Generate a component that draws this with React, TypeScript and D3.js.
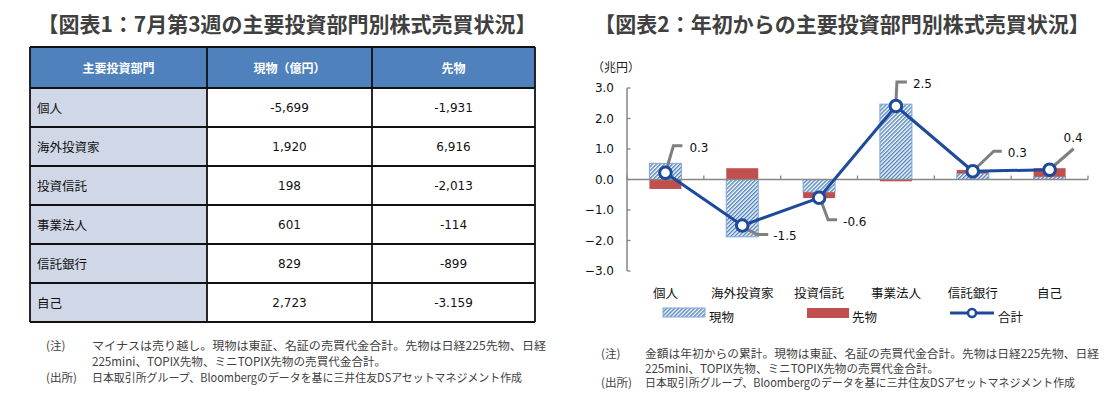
import React from "react";
import * as d3 from "d3";

// ---------- data ----------
const categories = ["個人", "海外投資家", "投資信託", "事業法人", "信託銀行", "自己"];
const tableHeaders = ["主要投資部門", "現物（億円）", "先物"];
const weeklySpot = ["-5,699", "1,920", "198", "601", "829", "2,723"];
const weeklyFutures = ["-1,931", "6,916", "-2,013", "-114", "-899", "-3.159"];

const ytdSpot = [0.53, -1.88, -0.42, 2.47, 0.2, 0.09];
const ytdFutures = [-0.31, 0.37, -0.19, -0.06, 0.11, 0.28];
const ytdTotal = [0.22, -1.51, -0.6, 2.41, 0.27, 0.32];
const ytdTotalLabels = ["0.3", "-1.5", "-0.6", "2.5", "0.3", "0.4"];
const yTicks = [3, 2, 1, 0, -1, -2, -3];
const legendLabels = ["現物", "先物", "合計"];

const title1 = "【図表1：7月第3週の主要投資部門別株式売買状況】";
const title2 = "【図表2：年初からの主要投資部門別株式売買状況】";
const note1 = [
  "マイナスは売り越し。現物は東証、名証の売買代金合計。先物は日経225先物、日経",
  "225mini、TOPIX先物、ミニTOPIX先物の売買代金合計。",
];
const note2 = [
  "金額は年初からの累計。現物は東証、名証の売買代金合計。先物は日経225先物、日経",
  "225mini、TOPIX先物、ミニTOPIX先物の売買代金合計。",
];
const sourceText = "日本取引所グループ、Bloombergのデータを基に三井住友DSアセットマネジメント作成";

// ---------- style ----------
const JP = "'Noto Sans CJK JP', 'Noto Sans', sans-serif";
const NUM = "'DejaVu Sans', 'Noto Sans CJK JP', sans-serif";
const TXT = "#404040";
const BLUE = "#4F81BD";
const RED = "#C0504D";
const LINE = "#1D4A9B";
const GREY = "#868686";
const LEADER = "#7F7F7F";

// leader-line shapes (offsets from marker) and label offsets
const leaders: [number, number][][] = [
  [[1, -3], [8, -27], [17, -27]],
  [[2, 2], [15, 9], [26, 9]],
  [[2, 3], [9, 22], [18, 22]],
  [[0, -3], [1, -24], [11, -24]],
  [[2, -2], [21, -20], [29, -20]],
  [[2, -2], [24, -21]],
];
const labelPos: [number, number][] = [
  [24, -25], [31, 10], [24, 24], [17, -22], [35, -18], [14, -32],
];

function Notes({ x0, x1, ys, lines }: { x0: number; x1: number; ys: number[]; lines: string[] }) {
  return (
    <g fontFamily={JP} fontSize={11.6} fill={TXT}>
      <text x={x0} y={ys[0]} dominantBaseline="central">(注)</text>
      <text x={x1} y={ys[0]} dominantBaseline="central" textLength={454} lengthAdjust="spacingAndGlyphs">{lines[0]}</text>
      <text x={x1} y={ys[1]} dominantBaseline="central">{lines[1]}</text>
      <text x={x0} y={ys[2]} dominantBaseline="central">(出所)</text>
      <text x={x1} y={ys[2]} dominantBaseline="central" textLength={430} lengthAdjust="spacingAndGlyphs">{sourceText}</text>
    </g>
  );
}

function Table() {
  const cols = [30, 207, 372, 535];
  const headTop = 47;
  const headBottom = 88;
  const rowH = 39;
  const rows = categories.map((c, i) => ({ c, s: weeklySpot[i], f: weeklyFutures[i], y: headBottom + i * rowH }));
  return (
    <g>
      <text x={287} y={23} textAnchor="middle" dominantBaseline="central" fontFamily={JP} fontWeight={700} fontSize={21} fill={TXT}>{title1}</text>
      <rect x={cols[0]} y={headTop} width={cols[3] - cols[0]} height={headBottom - headTop} fill={BLUE} />
      {rows.map((r) => (
        <rect key={r.c} x={cols[0]} y={r.y} width={cols[1] - cols[0]} height={rowH} fill="#D0D8E8" />
      ))}
      {tableHeaders.map((h, i) => (
        <text key={h} x={(cols[i] + cols[i + 1]) / 2} y={(headTop + headBottom) / 2} textAnchor="middle" dominantBaseline="central" fontFamily={JP} fontWeight={700} fontSize={12} fill="#fff">{h}</text>
      ))}
      {rows.map((r) => (
        <g key={r.c + "t"}>
          <text x={37} y={r.y + rowH / 2} dominantBaseline="central" fontFamily={JP} fontSize={12.5} fill="#111">{r.c}</text>
          <text x={(cols[1] + cols[2]) / 2} y={r.y + rowH / 2} textAnchor="middle" dominantBaseline="central" fontFamily={NUM} fontSize={12} fill="#111">{r.s}</text>
          <text x={(cols[2] + cols[3]) / 2} y={r.y + rowH / 2} textAnchor="middle" dominantBaseline="central" fontFamily={NUM} fontSize={12} fill="#111">{r.f}</text>
        </g>
      ))}
      {[headTop, headBottom, ...rows.map((r) => r.y + rowH)].map((y, i) => (
        <line key={"h" + i} x1={cols[0]} x2={cols[3]} y1={y} y2={y} stroke="#111" strokeWidth={1.8} />
      ))}
      {cols.map((x, i) => (
        <line key={"v" + i} x1={x} x2={x} y1={headTop} y2={headBottom + rowH * categories.length} stroke="#111" strokeWidth={1.8} />
      ))}
      <Notes x0={46} x1={92} ys={[345, 361, 377]} lines={note1} />
    </g>
  );
}

function Chart() {
  const x = d3.scaleBand<string>().domain(categories).range([627, 1088]).paddingInner(0).paddingOuter(0);
  const y = d3.scaleLinear().domain([-3, 3]).range([271, 88]);
  const barW = 32;
  const cx = (c: string) => (x(c) as number) + x.bandwidth() / 2;

  // diverging stack
  const bars: { c: string; y0: number; y1: number; kind: string }[] = [];
  categories.forEach((c, i) => {
    let pos = 0;
    let neg = 0;
    [["spot", ytdSpot[i]], ["fut", ytdFutures[i]]].forEach(([k, v]) => {
      const val = v as number;
      if (val >= 0) {
        bars.push({ c, y0: pos, y1: pos + val, kind: k as string });
        pos += val;
      } else {
        bars.push({ c, y0: neg, y1: neg + val, kind: k as string });
        neg += val;
      }
    });
  });

  const line = d3
    .line<number>()
    .x((_, i) => cx(categories[i]))
    .y((d) => y(d));

  const ticksX = [...categories.map((c) => x(c) as number), 1088];

  return (
    <g>
      <defs>
        <pattern id="hatch" patternUnits="userSpaceOnUse" width={2.8} height={2.8} patternTransform="rotate(45)">
          <rect width={2.8} height={2.8} fill="#fff" />
          <line x1={0.7} y1={0} x2={0.7} y2={2.8} stroke={BLUE} strokeWidth={1.4} />
        </pattern>
      </defs>
      <text x={842} y={23} textAnchor="middle" dominantBaseline="central" fontFamily={JP} fontWeight={700} fontSize={21} fill={TXT}>{title2}</text>
      <text x={592} y={66} dominantBaseline="central" fontFamily={JP} fontSize={12} fill="#222">（兆円）</text>

      {yTicks.map((t) => (
        <g key={t}>
          <text x={614} y={y(t)} textAnchor="end" dominantBaseline="central" fontFamily={NUM} fontSize={12} fill="#111">{d3.format(".1f")(t)}</text>
          <line x1={627} x2={630.5} y1={y(t)} y2={y(t)} stroke={GREY} strokeWidth={1.3} />
        </g>
      ))}
      <line x1={627} x2={627} y1={y(3)} y2={y(-3)} stroke={GREY} strokeWidth={1.5} />

      {bars.map((b, i) => (
        <rect
          key={i}
          x={cx(b.c) - barW / 2}
          width={barW}
          y={y(Math.max(b.y0, b.y1))}
          height={Math.abs(y(b.y0) - y(b.y1))}
          fill={b.kind === "spot" ? "url(#hatch)" : RED}
          stroke={b.kind === "spot" ? "#7EA6D8" : "none"}
          strokeWidth={1}
        />
      ))}

      <line x1={627} x2={1088} y1={y(0)} y2={y(0)} stroke={GREY} strokeWidth={1.5} />
      {ticksX.map((t, i) => (
        <line key={i} x1={t} x2={t} y1={y(0)} y2={y(0) - 4} stroke={GREY} strokeWidth={1.3} />
      ))}

      {ytdTotal.map((v, i) => {
        const mx = cx(categories[i]);
        const my = y(v);
        const pts = leaders[i].map(([dx, dy]) => `${mx + dx},${my + dy}`).join(" ");
        return <polyline key={"l" + i} points={pts} fill="none" stroke={LEADER} strokeWidth={3} />;
      })}

      <path d={line(ytdTotal) || ""} fill="none" stroke={LINE} strokeWidth={3} strokeLinejoin="round" />
      {ytdTotal.map((v, i) => (
        <circle key={"m" + i} cx={cx(categories[i])} cy={y(v)} r={5.8} fill="#fff" stroke={LINE} strokeWidth={3} />
      ))}
      {ytdTotal.map((v, i) => (
        <text key={"t" + i} x={cx(categories[i]) + labelPos[i][0]} y={y(v) + labelPos[i][1]} dominantBaseline="central" fontFamily={NUM} fontSize={12} fill="#111">{ytdTotalLabels[i]}</text>
      ))}

      {categories.map((c) => (
        <text key={c} x={cx(c)} y={292} textAnchor="middle" dominantBaseline="central" fontFamily={JP} fontSize={12.5} fill="#111">{c}</text>
      ))}

      {/* legend */}
      <rect x={663} y={308} width={42} height={9} fill="url(#hatch)" stroke="#7EA6D8" strokeWidth={1} />
      <text x={709} y={316} dominantBaseline="central" fontFamily={JP} fontSize={12.5} fill="#111">{legendLabels[0]}</text>
      <rect x={807} y={308} width={42} height={10} fill={RED} />
      <text x={852} y={316} dominantBaseline="central" fontFamily={JP} fontSize={12.5} fill="#111">{legendLabels[1]}</text>
      <line x1={950} x2={994} y1={313} y2={313} stroke={LINE} strokeWidth={3} />
      <circle cx={972} cy={313} r={4} fill="#fff" stroke={LINE} strokeWidth={2.5} />
      <text x={998} y={316} dominantBaseline="central" fontFamily={JP} fontSize={12.5} fill="#111">{legendLabels[2]}</text>

      <Notes x0={601} x1={645} ys={[353, 368, 382]} lines={note2} />
    </g>
  );
}

export default function App() {
  return (
    <svg width={1118} height={397} style={{ position: "absolute", left: 0, top: 0, background: "#fff" }}>
      <rect width={1118} height={397} fill="#fff" />
      <Table />
      <Chart />
    </svg>
  );
}
